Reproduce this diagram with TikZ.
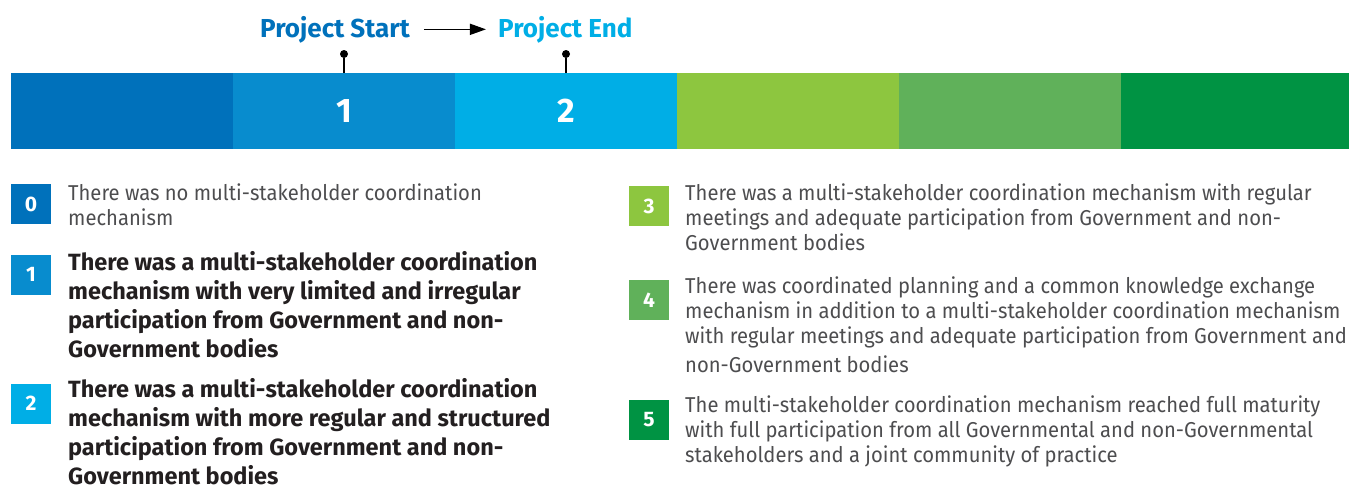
\documentclass[tikz,border=0pt]{standalone}
\usepackage{fontspec}
\setmainfont{Fira Sans}
\newfontfamily\lightfont[FakeStretch=0.94]{Fira Sans}
\usetikzlibrary{arrows.meta, positioning}

\definecolor{lvlzero}{HTML}{0071BB}
\definecolor{lvlone}{HTML}{088CCE}
\definecolor{lvltwo}{HTML}{00AEE6}
\definecolor{lvlthree}{HTML}{8DC63F}
\definecolor{lvlfour}{HTML}{60B15A}
\definecolor{lvlfive}{HTML}{009343}
\definecolor{txtgray}{HTML}{4D4D4F}
\definecolor{txtdark}{HTML}{231F20}

\tikzset{
  >={Triangle[length=16pt,width=11pt]},
  segbox/.style={inner sep=0pt,outer sep=0pt,minimum height=76pt,
    text=white,font=\bfseries\fontsize{34}{34}\selectfont},
  badge/.style={minimum size=40pt,inner sep=0pt,text=white,
    font=\bfseries\fontsize{21}{21}\selectfont},
  lightdesc/.style={anchor=base west,inner sep=0pt,align=left,text=txtgray,
    font=\lightfont\fontsize{21.5}{25}\selectfont},
  bolddesc/.style={anchor=base west,inner sep=0pt,align=left,text=txtdark,
    font=\bfseries\fontsize{23.5}{29}\selectfont},
  phase/.style={inner sep=0pt,font=\bfseries\fontsize{26}{26}\selectfont},
  pindot/.style={circle,fill=black,inner sep=0pt,minimum size=8pt},
  pinline/.style={draw,line width=2pt}
}

\begin{document}
\begin{tikzpicture}[x=1pt,y=-1pt]
  \useasboundingbox (0,0) rectangle (1349,488);

  % Scale bar
  \foreach \x/\w/\c/\lbl [count=\i from 0] in
  {11/222/lvlzero/{}, 233/222/lvlone/1, 455/222/lvltwo/2,
   677/222/lvlthree/{}, 899/222/lvlfour/{}, 1121/228/lvlfive/{}}
  {
    \node[segbox,fill=\c,minimum width={\w pt},anchor=west] (seg\i) at (\x,111) {\lbl};
  }

  % Project Start / Project End
  \node[phase,text=lvlzero,anchor=base] (pstart) at (335,37) {Project Start};
  \node[phase,text=lvltwo,base right=88pt of pstart] (pend) {Project End};
  \draw[->,line width=1.5pt,shorten <=14pt,shorten >=12pt] (pstart) -- (pend);

  % Pins
  \node[pindot] (pinstart) at (344,54) {};
  \node[pindot] (pinend) at (566,54) {};
  \draw[pinline] (pinstart) -- (seg1.north);
  \draw[pinline] (pinend) -- (seg2.north);

  % Levels 0-2 (nodes sit on the baseline of their last line)
  \node[badge,fill=lvlzero] (bzero) at (31,204) {0};
  \node[lightdesc] (dzero) at (68,225) {There was no multi-stakeholder coordination\\mechanism};

  \node[badge,fill=lvlone] (bone) at (31,274.5) {1};
  \node[bolddesc] (done) at (68,357) {There was a multi-stakeholder coordination\\mechanism with very limited and irregular\\participation from Government and non-\\Government bodies};

  \node[badge,fill=lvltwo] (btwo) at (31,403.5) {2};
  \node[bolddesc] (dtwo) at (68,484) {There was a multi-stakeholder coordination\\mechanism with more regular and structured\\participation from Government and non-\\Government bodies};

  % Levels 3-5
  \node[badge,fill=lvlthree] (bthree) at (649,206) {3};
  \node[lightdesc] (dthree) at (685,250) {There was a multi-stakeholder coordination mechanism with regular\\meetings and adequate participation from Government and non-\\Government bodies};

  \node[badge,fill=lvlfour] (bfour) at (649,300) {4};
  \node[lightdesc] (dfour) at (685,372) {There was coordinated planning and a common knowledge exchange\\mechanism in addition to a multi-stakeholder coordination mechanism\\with regular meetings and adequate participation from Government and\\[4pt]non-Government bodies};

  \node[badge,fill=lvlfive] (bfive) at (649,420) {5};
  \node[lightdesc] (dfive) at (685,462) {The multi-stakeholder coordination mechanism reached full maturity\\with full participation from all Governmental and non-Governmental\\stakeholders and a joint community of practice};
\end{tikzpicture}
\end{document}
